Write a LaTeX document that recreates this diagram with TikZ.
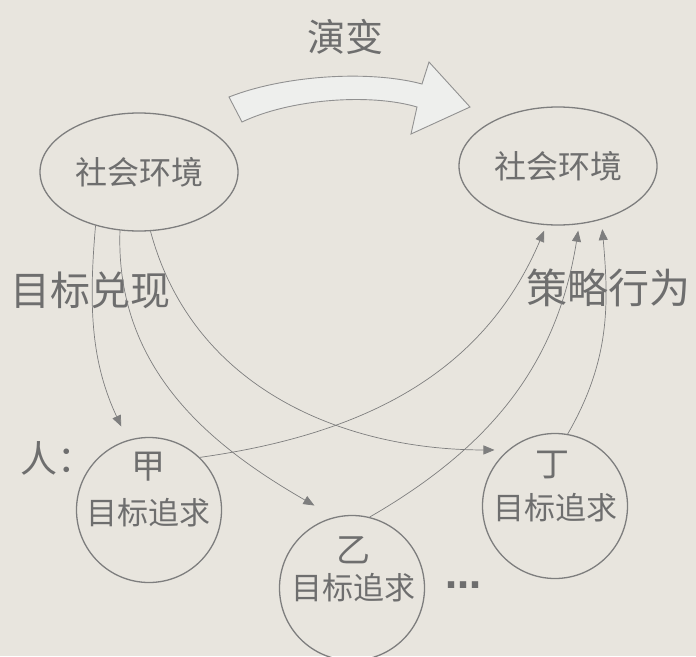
\documentclass[tikz,border=0pt]{standalone}
\usepackage{fontspec}
\newfontfamily\cjk{Noto Sans CJK SC}
\newfontfamily\dejavu{DejaVu Sans}
\usetikzlibrary{arrows.meta,shapes.geometric}
\definecolor{paper}{HTML}{E8E5DE}
\definecolor{ink}{HTML}{6E6E6E}
\definecolor{linec}{HTML}{7E7E7E}
\definecolor{arrowfill}{HTML}{EEEFED}
\begin{document}
\begin{tikzpicture}[x=1pt,y=1pt,
  env/.style={ellipse, draw=linec, line width=1.3pt, minimum width=198pt, minimum height=118pt, inner sep=0pt},
  person/.style={circle, draw=linec, line width=1.3pt, minimum size=145pt, inner sep=0pt},
  lbl/.style={text=ink, font=\cjk\fontsize{#1}{#1}\selectfont, inner sep=0pt},
  conn/.style={draw=linec, line width=0.7pt, -{Triangle[length=11pt,width=9pt]}}
]
\fill[paper] (0,0) rectangle (696,-656);
\useasboundingbox (0,0) rectangle (696,-656);
\clip (0,0) rectangle (696,-656);

% big evolution arrow
\draw[fill=arrowfill, draw=linec!85, line width=0.9pt, line join=miter]
  (229,-97) .. controls (285,-75) and (370,-70) .. (422,-84)
  -- (429,-62) -- (470,-107) -- (411,-134) -- (417,-107)
  .. controls (370,-93) and (290,-99) .. (242,-122) -- cycle;
\node[lbl=38] (yb) at (345,-37) {演变};

% environments
\node[env, lbl=32] (envA) at (139,-172) {社会环境};
\node[env, lbl=32] (envB) at (558,-166) {社会环境};

% side labels
\node[lbl=40] (mbdx) at (90,-290) {目标兑现};
\node[lbl=41] (clxw) at (608,-288) {策略行为};
\node[lbl=37, anchor=west] (ren) at (20,-458) {人：};

% persons
\node[person] (pA) at (149,-510) {};
\node[lbl=34] (pAn) at (148,-467) {甲};
\node[lbl=31] (pAg) at (148,-513) {目标追求};

\node[person] (pB) at (352,-588) {};
\node[lbl=34] (pBn) at (353,-550) {乙};
\node[lbl=31] (pBg) at (353,-588) {目标追求};

\node[person] (pD) at (555,-506) {};
\node[lbl=34] (pDn) at (552,-465) {丁};
\node[lbl=31] (pDg) at (555,-508) {目标追求};

\node[text=ink, inner sep=0pt, font=\dejavu\bfseries\fontsize{36}{36}\selectfont] (dots) at (463,-585) {…};

% goal realisation arrows
\path[conn, shorten >=15pt] (envA.231) to[out=265,in=115] (pA.107);
\path[conn, shorten >=23pt] (envA.252) to[out=268,in=150] (pB.104);
\path[conn, shorten >=13.5pt] (envA.281) to[out=285,in=180] (pD.130);

% strategic behaviour arrows
\path[conn, shorten >=6pt] (pA.46) to[out=8,in=247] (envB.259);
\path[conn, shorten >=6.5pt] (pB.76) to[out=30,in=261] (envB.290);
\path[conn, shorten >=9.5pt] (pD.80) to[out=60,in=275] (envB.309);
\end{tikzpicture}
\end{document}
